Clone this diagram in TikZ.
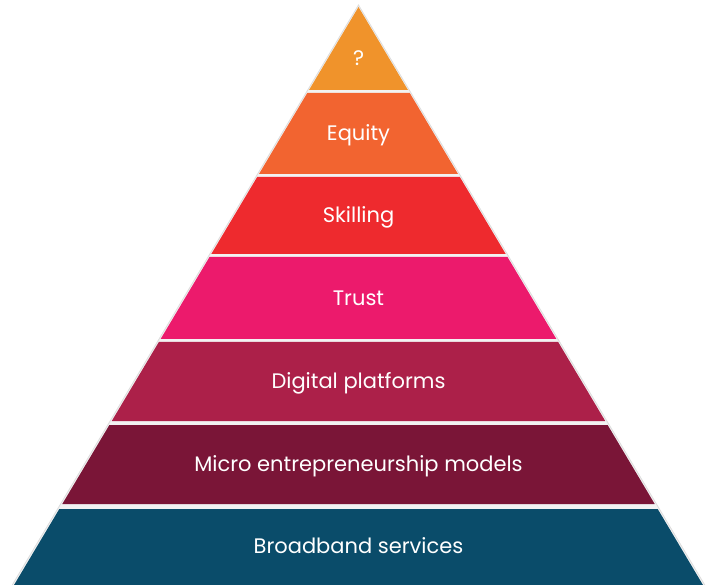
\documentclass[tikz,border=0pt]{standalone}
\usepackage{fontspec}
\setmainfont{Poppins}
\definecolor{cTop}{HTML}{F0932B}
\definecolor{cEquity}{HTML}{F26430}
\definecolor{cSkill}{HTML}{EE2A2E}
\definecolor{cTrust}{HTML}{EC1A6C}
\definecolor{cDigital}{HTML}{AC2049}
\definecolor{cMicro}{HTML}{7A1537}
\definecolor{cBroad}{HTML}{0A4C6A}
\definecolor{gapgray}{HTML}{F2F2F2}
\definecolor{edgegray}{HTML}{DDDDDD}
\tikzset{
  layertext/.style={text=white, font=\fontsize{21}{25}\selectfont, anchor=base, inner sep=0pt},
}
\begin{document}
\begin{tikzpicture}[x=1pt,y=-1pt]
\useasboundingbox (0,0) rectangle (707,585);
\def\ax{358.5}
\def\ay{6}
\def\k{0.596}
% outline of the whole pyramid
\pgfmathsetmacro{\bl}{\ax-\k*(587-\ay)}
\pgfmathsetmacro{\br}{\ax+\k*(587-\ay)}
\fill[gapgray, draw=edgegray, line width=0.8pt] (\ax,\ay-1) -- (\br+1.2,587) -- (\bl-1.2,587) -- cycle;
% layers: top, bottom, colour, text y, name, text
\foreach \t/\b/\c/\ty/\nm/\txt in {
  7/90/cTop/58/lq/{?},
  93/174/cEquity/133.5/le/{Equity},
  177/254/cSkill/215.5/ls/{Skilling},
  257/339/cTrust/298/lt/{Trust},
  342/421/cDigital/381.5/ld/{Digital platforms},
  425/504/cMicro/464.5/lm/{Micro entrepreneurship models},
  509/587/cBroad/546.5/lb/{Broadband services}}{
  \pgfmathsetmacro{\tl}{\ax-\k*(\t-\ay)+0.6}
  \pgfmathsetmacro{\tr}{\ax+\k*(\t-\ay)-0.6}
  \pgfmathsetmacro{\bll}{\ax-\k*(\b-\ay)+0.6}
  \pgfmathsetmacro{\brr}{\ax+\k*(\b-\ay)-0.6}
  \fill[\c] (\tl,\t) -- (\tr,\t) -- (\brr,\b) -- (\bll,\b) -- cycle;
  \node[layertext] (\nm) at (\ax,\ty+7.4) {\txt};
}
\end{tikzpicture}
\end{document}
